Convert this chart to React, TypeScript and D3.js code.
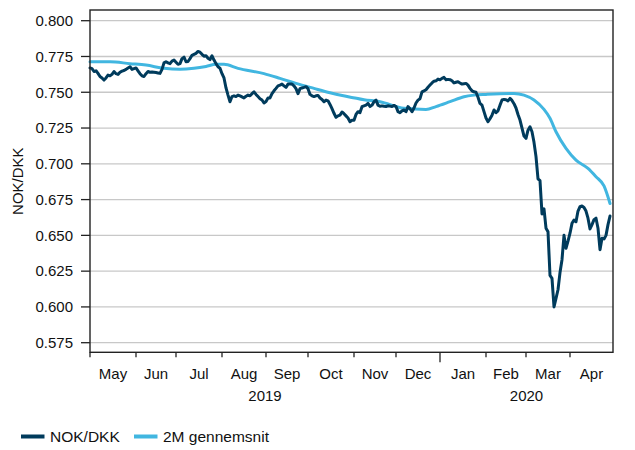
import React from "react";
import * as d3 from "d3";

// ---- data ----
const startDate = "2019-05-01";
const endDate = "2020-04-30";

// NOK/DKK, one value per trading day starting at startDate
const nokValues = [
  0.767, 0.7665, 0.7645, 0.765, 0.7632, 0.761, 0.760, 0.7585, 0.760, 0.762,
  0.7615, 0.7625, 0.7645, 0.763, 0.7625, 0.764, 0.7648, 0.7652, 0.766, 0.767,
  0.7678, 0.766, 0.7665, 0.767, 0.765, 0.763, 0.7615, 0.761, 0.763, 0.7645,
  0.764, 0.7642, 0.764, 0.7638, 0.7635, 0.7632, 0.766, 0.7705, 0.7713, 0.7705,
  0.770, 0.7718, 0.7725, 0.771, 0.7695, 0.770, 0.7735, 0.7745, 0.7713, 0.7715,
  0.7735, 0.7758, 0.7765, 0.7772, 0.7785, 0.778, 0.7765, 0.7752, 0.7755, 0.7738,
  0.7728, 0.7755, 0.7725, 0.770, 0.7678, 0.7668, 0.763, 0.760, 0.753, 0.748,
  0.7434, 0.747, 0.7475, 0.747, 0.748, 0.7475, 0.7468, 0.746, 0.7472, 0.748,
  0.7475, 0.749, 0.7503, 0.7485, 0.747, 0.7455, 0.7446, 0.7425, 0.7435, 0.746,
  0.746, 0.749, 0.751, 0.7527, 0.7545, 0.755, 0.7557, 0.7545, 0.7534, 0.7557,
  0.7557, 0.7557, 0.7545, 0.7525, 0.749, 0.7525, 0.753, 0.7534, 0.7539, 0.7525,
  0.7485, 0.7475, 0.747, 0.7475, 0.7478, 0.746, 0.745, 0.7434, 0.7445, 0.744,
  0.7415, 0.7385, 0.7353, 0.7325, 0.7335, 0.734, 0.7362, 0.735, 0.7335, 0.732,
  0.7294, 0.7305, 0.7305, 0.7345, 0.7364, 0.7358, 0.7399, 0.7405, 0.741, 0.7422,
  0.740, 0.741, 0.7434, 0.7445, 0.741, 0.7402, 0.7405, 0.7402, 0.740, 0.7405,
  0.7403, 0.740, 0.7408, 0.740, 0.7365, 0.7357, 0.737, 0.7376, 0.7364, 0.740,
  0.7385, 0.7364, 0.739, 0.7425, 0.7445, 0.7455, 0.7503, 0.751, 0.7518, 0.7535,
  0.755, 0.7565, 0.7577, 0.758, 0.7592, 0.7587, 0.7597, 0.7604, 0.7588, 0.759,
  0.7588, 0.758, 0.7565, 0.757, 0.7574, 0.7565, 0.7557, 0.756, 0.7562, 0.755,
  0.7527, 0.751, 0.7503, 0.750, 0.7465, 0.7422, 0.741, 0.7365, 0.732, 0.7294,
  0.7315, 0.734, 0.7376, 0.7357, 0.737, 0.741, 0.7446, 0.745, 0.7448, 0.744,
  0.7457, 0.7443, 0.742, 0.739, 0.7345, 0.7306, 0.725, 0.7194, 0.7178, 0.7235,
  0.7259, 0.7224, 0.715, 0.705, 0.6895, 0.6882, 0.665, 0.6685, 0.655, 0.6525,
  0.622, 0.620, 0.600, 0.606, 0.612, 0.624, 0.633, 0.650, 0.641, 0.646,
  0.6515, 0.6584, 0.6607, 0.6595, 0.667, 0.670, 0.6705, 0.6695, 0.667, 0.662,
  0.6545, 0.6575, 0.661, 0.662, 0.655, 0.640, 0.648, 0.6475, 0.650, 0.6575,
  0.6635,
];

// 2M moving average (read at selected dates)
const avgDates = [
  "2019-05-01", "2019-05-15", "2019-05-29", "2019-06-10", "2019-06-21",
  "2019-07-03", "2019-07-12", "2019-07-22", "2019-07-29", "2019-08-02",
  "2019-08-13", "2019-08-30", "2019-09-11", "2019-09-23", "2019-10-04",
  "2019-10-16", "2019-10-28", "2019-11-08", "2019-11-20", "2019-12-06",
  "2019-12-23", "2019-12-30", "2020-01-08", "2020-01-17", "2020-01-24",
  "2020-02-03", "2020-02-21", "2020-02-28", "2020-03-06", "2020-03-13",
  "2020-03-18", "2020-03-23", "2020-03-30", "2020-04-06", "2020-04-14",
  "2020-04-20", "2020-04-24", "2020-04-29",
];
const avgValues = [
  0.7713, 0.7713, 0.770, 0.769, 0.7667,
  0.766, 0.7667, 0.768, 0.7695, 0.7695,
  0.7667, 0.763, 0.7597, 0.7562, 0.7527,
  0.7497, 0.7472, 0.7448, 0.7434, 0.7388,
  0.738, 0.740, 0.7434, 0.7469, 0.748,
  0.7485, 0.7492, 0.748, 0.7446, 0.738,
  0.7318, 0.7224, 0.7108, 0.7026, 0.6968,
  0.691, 0.6845, 0.6723,
];

const yTicks = [0.575, 0.6, 0.625, 0.65, 0.675, 0.7, 0.725, 0.75, 0.775, 0.8];
const monthLabels = ["May", "Jun", "Jul", "Aug", "Sep", "Oct", "Nov", "Dec", "Jan", "Feb", "Mar", "Apr"];
const yearLabels = ["2019", "2020"];
const seriesNames = ["NOK/DKK", "2M gennemsnit"];
const yAxisTitle = "NOK/DKK";

const DARK = "#003b5c";
const LIGHT = "#41b6e0";
const FONT = "'Liberation Sans', Arial, sans-serif";

export default function App() {
  const parse = d3.utcParse("%Y-%m-%d");
  const fmt = d3.utcFormat("%Y-%m-%d");
  const s = parse(startDate)!;
  const e = d3.utcDay.offset(parse(endDate)!, 1);
  const days = d3.utcDays(s, e).filter((d) => d.getUTCDay() !== 0 && d.getUTCDay() !== 6);
  const idx = new Map(days.map((d, i) => [fmt(d), i]));
  const n = days.length; // 262

  const left = 90, right = 613, top = 10, bottom = 352.3;
  const x = d3.scaleLinear().domain([0, n - 0.5]).range([left, right]);
  const y = d3.scaleLinear().domain([0.575, 0.8]).range([342.7, 20.7]);

  const nokPts = nokValues.map((v, i) => [i, v] as [number, number]);
  const avgPts = avgDates.map((d, i) => [idx.get(d)!, avgValues[i]] as [number, number]);

  const line = d3.line<[number, number]>().x((d) => x(d[0])).y((d) => y(d[1]));
  const smooth = d3
    .line<[number, number]>()
    .x((d) => x(d[0]))
    .y((d) => y(d[1]))
    .curve(d3.curveMonotoneX);

  // month start indices
  const monthStarts: number[] = [];
  days.forEach((d, i) => {
    if (i === 0 || d.getUTCMonth() !== days[i - 1].getUTCMonth()) monthStarts.push(i);
  });
  const yearStartIdx = monthStarts.find((i) => days[i].getUTCMonth() === 0)!;

  return (
    <svg
      width={635}
      height={450}
      style={{ position: "absolute", left: 0, top: 0, background: "#fff" }}
      fontFamily={FONT}
    >
      {/* gridlines */}
      {yTicks.map((t) => (
        <line key={t} x1={left} x2={right} y1={y(t)} y2={y(t)} stroke="#c8c8c8" strokeWidth={1.3} />
      ))}
      {/* y ticks & labels */}
      {yTicks.map((t) => (
        <g key={"yt" + t}>
          <line x1={81} x2={left} y1={y(t)} y2={y(t)} stroke="#222" strokeWidth={1.3} />
          <text x={73} y={y(t)} dy="0.35em" textAnchor="end" fontSize={15} fill="#111">
            {d3.format(".3f")(t)}
          </text>
        </g>
      ))}
      <text
        transform={`translate(18,${(top + bottom) / 2}) rotate(-90)`}
        textAnchor="middle"
        dy="0.35em"
        fontSize={15}
        fill="#111"
      >
        {yAxisTitle}
      </text>

      {/* lines */}
      <path d={smooth(avgPts)!} fill="none" stroke={LIGHT} strokeWidth={3} strokeLinejoin="round" strokeLinecap="round" />
      <path d={line(nokPts)!} fill="none" stroke={DARK} strokeWidth={3} strokeLinejoin="round" strokeLinecap="round" />

      {/* frame */}
      <rect x={left} y={top} width={right - left} height={bottom - top} fill="none" stroke="#222" strokeWidth={1.4} />

      {/* x ticks */}
      {monthStarts.map((i) => (
        <line
          key={"xt" + i}
          x1={x(i)}
          x2={x(i)}
          y1={bottom}
          y2={i === yearStartIdx ? bottom + 10 : bottom + 5}
          stroke="#222"
          strokeWidth={1.3}
        />
      ))}
      {monthStarts.map((i, k) => {
        const next = k + 1 < monthStarts.length ? x(monthStarts[k + 1]) : right;
        return (
          <text key={"ml" + i} x={(x(i) + next) / 2} y={378.5} textAnchor="middle" fontSize={15} fill="#111">
            {monthLabels[k]}
          </text>
        );
      })}
      <text x={(x(0) + x(yearStartIdx)) / 2} y={400.5} textAnchor="middle" fontSize={15} fill="#111">
        {yearLabels[0]}
      </text>
      <text x={(x(yearStartIdx) + right) / 2} y={400.5} textAnchor="middle" fontSize={15} fill="#111">
        {yearLabels[1]}
      </text>

      {/* legend */}
      <line x1={21} x2={44.5} y1={436.5} y2={436.5} stroke={DARK} strokeWidth={4} />
      <text x={50} y={436.5} dy="0.35em" fontSize={15.5} fill="#111">
        {seriesNames[0]}
      </text>
      <line x1={134} x2={157.5} y1={436.5} y2={436.5} stroke={LIGHT} strokeWidth={4} />
      <text x={163} y={436.5} dy="0.35em" fontSize={15.5} fill="#111">
        {seriesNames[1]}
      </text>
    </svg>
  );
}
